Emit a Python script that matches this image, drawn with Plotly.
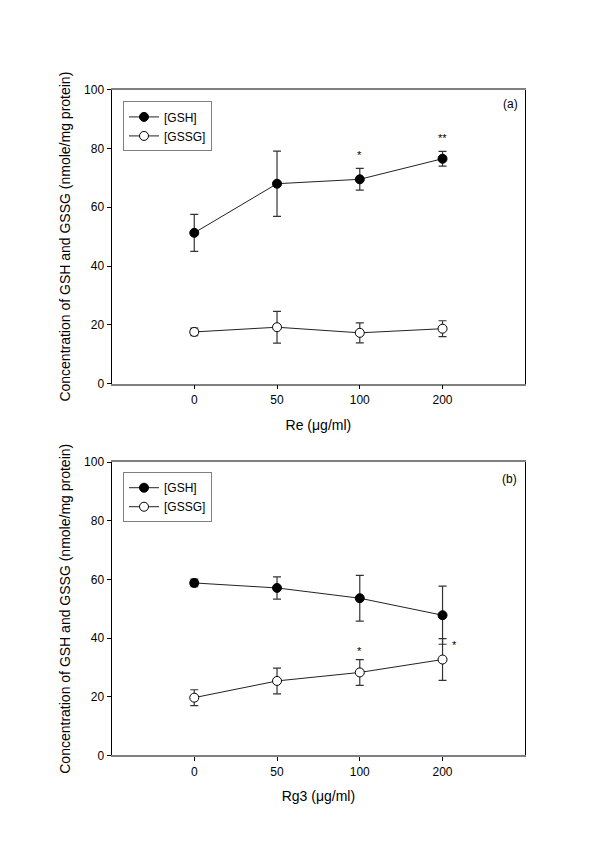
import plotly.graph_objects as go

doses = ["0", "50", "100", "200"]

# Panel (a): Re
re_gsh = [51.3, 68.0, 69.5, 76.5]
re_gsh_err = [6.3, 11.1, 3.7, 2.5]
re_gssg = [17.6, 19.2, 17.3, 18.7]
re_gssg_err = [1.3, 5.4, 3.4, 2.7]
re_sig = ["", "", "*", "**"]

# Panel (b): Rg3
rg3_gsh = [58.8, 57.1, 53.6, 47.8]
rg3_gsh_err = [1.3, 3.8, 7.8, 9.9]
rg3_gssg = [19.7, 25.4, 28.3, 32.7]
rg3_gssg_err = [2.7, 4.4, 4.4, 7.1]
rg3_sig = ["", "", "*", "*"]

y_ticks = [0, 20, 40, 60, 80, 100]

FONT = "Liberation Sans, Arial, sans-serif"
xpos = list(range(len(doses)))

W, H = 600, 850


def px(x):
    return x / W


def py(y):
    return 1 - y / H


fig = go.Figure()


def add_series(y, err, name, fill, xa, ya, legend):
    fig.add_trace(go.Scatter(
        x=xpos, y=y, name=name, mode="lines+markers",
        xaxis=xa, yaxis=ya, legend=legend,
        line=dict(color="#222222", width=1),
        marker=dict(size=9, color=fill, line=dict(color="black", width=1)),
        error_y=dict(type="data", array=err, visible=True, color="#333333",
                     thickness=1.2, width=4),
    ))


add_series(re_gsh, re_gsh_err, "[GSH]", "black", "x", "y", "legend")
add_series(re_gssg, re_gssg_err, "[GSSG]", "white", "x", "y", "legend")
add_series(rg3_gsh, rg3_gsh_err, "[GSH]", "black", "x2", "y2", "legend2")
add_series(rg3_gssg, rg3_gssg_err, "[GSSG]", "white", "x2", "y2", "legend2")

xdom = [px(111.5), px(525.3)]
ydom_a = [py(383), py(84)]
ydom_b = [py(761), py(462.7)]

xcommon = dict(range=[-1, 4], tickvals=xpos, ticktext=doses,
               showline=True, mirror=True,
               linecolor="#808080", linewidth=1.5, ticks="outside", ticklen=4,
               tickcolor="black", showgrid=False, zeroline=False,
               tickfont=dict(size=12, color="black", family=FONT),
               domain=xdom)
ycommon = dict(range=[0, 100], tickvals=y_ticks, showline=True, mirror=True,
               linecolor="black", linewidth=1, ticks="outside", ticklen=4,
               tickcolor="black", showgrid=False, zeroline=False,
               tickfont=dict(size=12, color="black", family=FONT))

ytitle = "Concentration of GSH and GSSG (nmole/mg protein)"
legcommon = dict(xanchor="left", yanchor="top", bordercolor="#808080",
                 borderwidth=1, bgcolor="white",
                 font=dict(size=12, family=FONT, color="black"), itemwidth=30)

fig.update_layout(
    width=W, height=H,
    margin=dict(l=0, r=0, t=0, b=0),
    paper_bgcolor="white", plot_bgcolor="white",
    font=dict(family=FONT, color="black"),
    xaxis=dict(**xcommon, anchor="y",
               title=dict(text="Re (μg/ml)", font=dict(size=14, family=FONT), standoff=14)),
    yaxis=dict(**ycommon, domain=ydom_a, anchor="x",
               title=dict(text=ytitle, font=dict(size=14, family=FONT), standoff=10)),
    xaxis2=dict(**xcommon, anchor="y2",
                title=dict(text="Rg3 (μg/ml)", font=dict(size=14, family=FONT), standoff=14)),
    yaxis2=dict(**ycommon, domain=ydom_b, anchor="x2",
                title=dict(text=ytitle, font=dict(size=14, family=FONT), standoff=10)),
    legend=dict(**legcommon, x=px(123), y=py(96)),
    legend2=dict(**legcommon, x=px(123), y=py(473)),
)

STAR = dict(size=11, family=FONT, color="black")
# significance marks above the upper error bars
for i, s in enumerate(re_sig):
    if s:
        fig.add_annotation(text=s, x=xpos[i], y=re_gsh[i] + re_gsh_err[i],
                           xref="x", yref="y", yanchor="bottom", yshift=5,
                           showarrow=False, font=STAR)
for i, s in enumerate(rg3_sig):
    if s:
        if i == 3:
            fig.add_annotation(text=s, x=xpos[i], y=rg3_gssg[i] + rg3_gssg_err[i],
                               xref="x2", yref="y2", yanchor="middle", xshift=12,
                               yshift=-6, showarrow=False, font=STAR)
        else:
            fig.add_annotation(text=s, x=xpos[i], y=rg3_gssg[i] + rg3_gssg_err[i],
                               xref="x2", yref="y2", yanchor="bottom", yshift=1,
                               showarrow=False, font=STAR)

fig.add_annotation(text="(a)", x=px(520), y=py(99), xref="paper", yref="paper",
                   xanchor="right", yanchor="middle", showarrow=False,
                   font=dict(size=12, family=FONT, color="black"))
fig.add_annotation(text="(b)", x=px(519), y=py(480), xref="paper", yref="paper",
                   xanchor="right", yanchor="middle", showarrow=False,
                   font=dict(size=12, family=FONT, color="black"))

fig.write_html("out.html", config={"displayModeBar": False},
               post_script="document.body.style.margin='0';")
